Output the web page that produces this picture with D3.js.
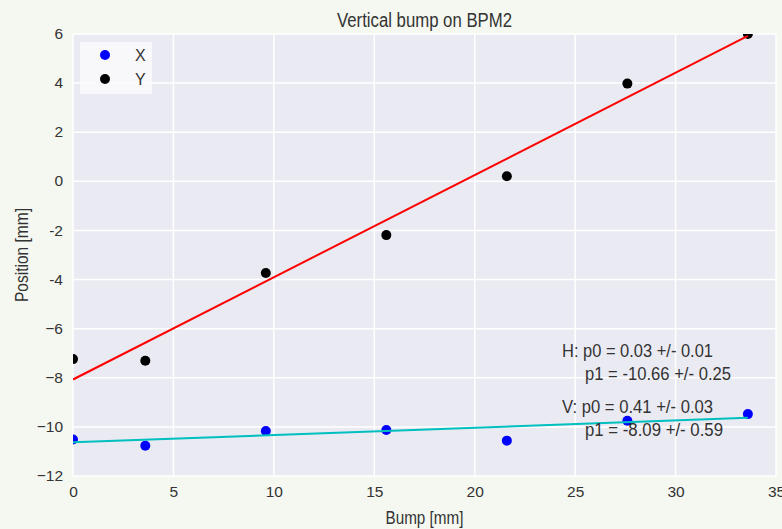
<!DOCTYPE html>
<html>
<head>
<meta charset="utf-8">
<script src="https://cdn.jsdelivr.net/npm/d3@7"></script>
<style>
    body { margin: 0; background: #f5f8f1; overflow: hidden; }
    svg { display: block; }
    text { font-family: "Liberation Sans", Arial, sans-serif; fill: #333; }
</style>
</head>
<body>
<svg id="chart"></svg>
<script>
// data
const bump = [0, 3.6, 9.6, 15.6, 21.6, 27.6, 33.6];
const posX = [-10.51, -10.77, -10.17, -10.13, -10.56, -9.75, -9.48];
const posY = [-7.24, -7.31, -3.73, -2.19, 0.21, 3.98, 6.0];
const fitBump = [0, 33.6];
const fitH = [-10.63, -9.63];
const fitV = [-8.07, 5.92];
const xTicks = [0, 5, 10, 15, 20, 25, 30, 35];
const yTicks = [6, 4, 2, 0, -2, -4, -6, -8, -10, -12];
const yTickLabels = ['6', '4', '2', '0', '-2', '-4', '\u22126', '\u22128', '\u221210', '\u221212'];
const hText = ['H: p0 = 0.03 +/- 0.01', 'p1 = -10.66 +/- 0.25'];
const vText = ['V: p0 = 0.41 +/- 0.03', 'p1 = -8.09 +/- 0.59'];

const config = {
    width: 782,
    height: 529,
    margin: { top: 34, right: 6, bottom: 53, left: 73 }
};

const innerWidth = config.width - config.margin.left - config.margin.right;
const innerHeight = config.height - config.margin.top - config.margin.bottom;

const svg = d3.select('#chart')
    .attr('width', config.width)
    .attr('height', config.height);

const xScale = d3.scaleLinear().domain([0, 35]).range([0, innerWidth]);
const yScale = d3.scaleLinear().domain([-12, 6]).range([innerHeight, 0]);

const g = svg.append('g')
    .attr('transform', `translate(${config.margin.left},${config.margin.top})`);

g.append('defs').append('clipPath')
    .attr('id', 'clip')
    .append('rect')
    .attr('width', innerWidth)
    .attr('height', innerHeight);

g.append('rect')
    .attr('width', innerWidth)
    .attr('height', innerHeight)
    .attr('fill', '#eaeaf2');

// grid
g.append('g').selectAll('line')
    .data(xTicks)
    .join('line')
    .attr('x1', d => xScale(d)).attr('x2', d => xScale(d))
    .attr('y1', 0).attr('y2', innerHeight)
    .attr('stroke', '#fff').attr('stroke-width', 1.5);

g.append('g').selectAll('line')
    .data(yTicks)
    .join('line')
    .attr('y1', d => yScale(d)).attr('y2', d => yScale(d))
    .attr('x1', 0).attr('x2', innerWidth)
    .attr('stroke', '#fff').attr('stroke-width', 1.5);

// axes (labels only, seaborn style)
const xAxis = d3.axisBottom(xScale).tickValues(xTicks).tickSize(0).tickPadding(10);
const yAxis = d3.axisLeft(yScale).tickValues(yTicks).tickSize(0).tickPadding(10)
    .tickFormat(d => yTickLabels[yTicks.indexOf(d)]);

const xAxisG = g.append('g')
    .attr('transform', `translate(0,${innerHeight})`)
    .call(xAxis);
const yAxisG = g.append('g').call(yAxis);

[xAxisG, yAxisG].forEach(a => {
    a.select('.domain').remove();
    a.attr('font-size', null).attr('font-family', null);
    a.selectAll('text')
        .attr('fill', '#333')
        .style('font-size', '15.5px');
});
yAxisG.selectAll('text').attr('dy', '0.3em');

const plot = g.append('g').attr('clip-path', 'url(#clip)');

const pointsX = bump.map((b, i) => ({ b: b, v: posX[i] }));
const pointsY = bump.map((b, i) => ({ b: b, v: posY[i] }));

plot.selectAll('.pt-x')
    .data(pointsX)
    .join('circle')
    .attr('class', 'pt-x')
    .attr('cx', d => xScale(d.b))
    .attr('cy', d => yScale(d.v))
    .attr('r', 5)
    .attr('fill', '#0000ff');

plot.selectAll('.pt-y')
    .data(pointsY)
    .join('circle')
    .attr('class', 'pt-y')
    .attr('cx', d => xScale(d.b))
    .attr('cy', d => yScale(d.v))
    .attr('r', 5)
    .attr('fill', '#000');

const line = d3.line()
    .x(d => xScale(d[0]))
    .y(d => yScale(d[1]));

plot.append('path')
    .datum(fitBump.map((b, i) => [b, fitV[i]]))
    .attr('d', line)
    .attr('fill', 'none')
    .attr('stroke', '#ff0000')
    .attr('stroke-width', 2);

plot.append('path')
    .datum(fitBump.map((b, i) => [b, fitH[i]]))
    .attr('d', line)
    .attr('fill', 'none')
    .attr('stroke', '#00bfbf')
    .attr('stroke-width', 2);

// legend
const legend = g.append('g').attr('transform', 'translate(7,8)');
legend.append('rect')
    .attr('width', 72)
    .attr('height', 52)
    .attr('fill', '#fafafc')
    .attr('fill-opacity', 0.9);
[['X', '#0000ff'], ['Y', '#000']].forEach((d, i) => {
    legend.append('circle')
        .attr('cx', 25).attr('cy', 13 + i * 24)
        .attr('r', 5).attr('fill', d[1]);
    legend.append('text')
        .attr('x', 55).attr('y', 13 + i * 24)
        .attr('dy', '0.36em')
        .style('font-size', '16px')
        .text(d[0]);
});

// fit annotations
const annot = g.append('g');
[[hText, 323], [vText, 379]].forEach(([lines, y0]) => {
    annot.append('text')
        .attr('x', 489).attr('y', y0)
        .attr('textLength', 151).attr('lengthAdjust', 'spacingAndGlyphs')
        .style('font-size', '18px')
        .text(lines[0]);
    annot.append('text')
        .attr('x', 512).attr('y', y0 + 23)
        .attr('textLength', lines[1].length > 19 ? 146 : 138).attr('lengthAdjust', 'spacingAndGlyphs')
        .style('font-size', '18px')
        .text(lines[1]);
});

// title and axis labels
svg.append('text')
    .attr('x', config.margin.left + innerWidth / 2)
    .attr('y', 27)
    .attr('text-anchor', 'middle')
    .attr('textLength', 175).attr('lengthAdjust', 'spacingAndGlyphs')
    .style('font-size', '20px')
    .text('Vertical bump on BPM2');

svg.append('text')
    .attr('x', config.margin.left + innerWidth / 2)
    .attr('y', 524)
    .attr('text-anchor', 'middle')
    .attr('textLength', 78).attr('lengthAdjust', 'spacingAndGlyphs')
    .style('font-size', '19px')
    .text('Bump [mm]');

svg.append('text')
    .attr('transform', 'translate(28,255) rotate(-90)')
    .attr('text-anchor', 'middle')
    .attr('textLength', 94).attr('lengthAdjust', 'spacingAndGlyphs')
    .style('font-size', '19px')
    .text('Position [mm]');
</script>
</body>
</html>
